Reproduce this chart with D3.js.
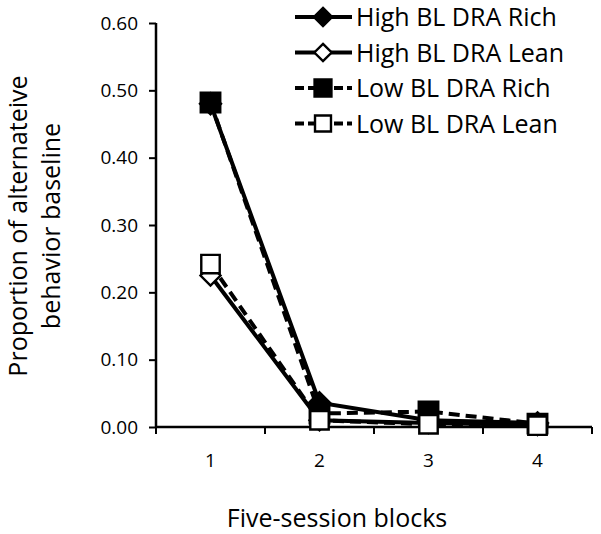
<!DOCTYPE html>
<html>
<head>
<meta charset="utf-8">
<script src="https://cdn.jsdelivr.net/npm/d3@7"></script>
<style>
  body { margin: 0; background: #fff; }
  text { font-family: "Open Sans", "Noto Sans", sans-serif; fill: #000; }
</style>
</head>
<body>
<div id="chart"></div>
<script>
var blocks = ["1", "2", "3", "4"];
var yTicks = [0, 0.1, 0.2, 0.3, 0.4, 0.5, 0.6];

var highRich = [0.480, 0.036, 0.010, 0.006];
var highLean = [0.225, 0.010, 0.006, 0.003];
var lowRich  = [0.482, 0.020, 0.023, 0.005];
var lowLean  = [0.242, 0.010, 0.004, 0.002];

var seriesNames = ["High BL DRA Rich", "High BL DRA Lean", "Low BL DRA Rich", "Low BL DRA Lean"];

var svgWidth = 601;
var svgHeight = 534;

var margin = { top: 23, right: 9, bottom: 107, left: 156 };
var width = svgWidth - margin.left - margin.right;
var height = svgHeight - margin.top - margin.bottom;

var svg = d3.select("#chart")
  .append("svg")
  .attr("width", svgWidth)
  .attr("height", svgHeight);

var chartGroup = svg.append("g")
  .attr("transform", `translate(${margin.left}, ${margin.top})`);

var x = d3.scaleBand()
  .domain(blocks)
  .range([0, width]);

var y = d3.scaleLinear()
  .domain([0, 0.6])
  .range([height, 0]);

var bottomAxis = d3.axisBottom(x).tickSize(0).tickPadding(27);
var leftAxis = d3.axisLeft(y).tickValues(yTicks).tickFormat(d3.format(".2f")).tickSize(7).tickPadding(11);

var yAxisG = chartGroup.append("g").call(leftAxis);
yAxisG.select(".domain").remove();
yAxisG.selectAll("line").attr("stroke", "#000").attr("stroke-width", 2);
yAxisG.selectAll("text").style("font-size", "19px");
yAxisG.append("line")
  .attr("x1", 0).attr("x2", 0).attr("y1", 0).attr("y2", height)
  .attr("stroke", "#000").attr("stroke-width", 2.5);

var xAxisG = chartGroup.append("g")
  .attr("transform", `translate(0, ${height})`)
  .call(bottomAxis);
xAxisG.select(".domain").remove();
xAxisG.selectAll("text").style("font-size", "19px");
xAxisG.append("line")
  .attr("x1", 0).attr("x2", width).attr("y1", 0).attr("y2", 0)
  .attr("stroke", "#000").attr("stroke-width", 2.5);
// category boundary ticks
xAxisG.selectAll(".btick")
  .data(d3.range(blocks.length + 1))
  .enter()
  .append("line")
  .attr("class", "btick")
  .attr("x1", i => i * x.bandwidth())
  .attr("x2", i => i * x.bandwidth())
  .attr("y1", 0).attr("y2", 7)
  .attr("stroke", "#000").attr("stroke-width", 2);

// excel style diamond: a square turned 45 degrees
var squareDiamond = {
  draw: function(context, size) {
    var r = Math.sqrt(size / 2);
    context.moveTo(0, -r);
    context.lineTo(r, 0);
    context.lineTo(0, r);
    context.lineTo(-r, 0);
    context.closePath();
  }
};

var series = [
  { name: seriesNames[0], values: highRich, dash: null, shape: squareDiamond, fill: "#000", size: 220 },
  { name: seriesNames[1], values: highLean, dash: null, shape: squareDiamond, fill: "#fff", size: 200 },
  { name: seriesNames[2], values: lowRich, dash: "11,6", shape: d3.symbolSquare, fill: "#000", size: 380 },
  { name: seriesNames[3], values: lowLean, dash: "11,6", shape: d3.symbolSquare, fill: "#fff", size: 340 }
];

var line = d3.line()
  .x((d, i) => x(blocks[i]) + x.bandwidth() / 2)
  .y(d => y(d));

series.forEach(function(s) {
  chartGroup.append("path")
    .datum(s.values)
    .attr("d", line)
    .attr("fill", "none")
    .attr("stroke", "#000")
    .attr("stroke-width", 4)
    .attr("stroke-dasharray", s.dash);
});

series.forEach(function(s) {
  chartGroup.selectAll(null)
    .data(s.values)
    .enter()
    .append("path")
    .attr("transform", (d, i) => `translate(${x(blocks[i]) + x.bandwidth() / 2}, ${y(d)})`)
    .attr("d", d3.symbol().type(s.shape).size(s.size))
    .attr("fill", s.fill)
    .attr("stroke", "#000")
    .attr("stroke-width", 2.4);
});

// legend
var legend = svg.append("g").attr("transform", "translate(295, 17)");
series.forEach(function(s, i) {
  var row = legend.append("g").attr("transform", `translate(0, ${i * 35.5})`);
  row.append("line")
    .attr("x1", 0).attr("x2", 57).attr("y1", 0).attr("y2", 0)
    .attr("stroke", "#000").attr("stroke-width", 4)
    .attr("stroke-dasharray", s.dash ? "9,4" : null);
  row.append("path")
    .attr("transform", "translate(28, 0)")
    .attr("d", d3.symbol().type(s.shape).size(s.size * 0.75))
    .attr("fill", s.fill)
    .attr("stroke", "#000")
    .attr("stroke-width", 2.4);
  row.append("text")
    .attr("x", 61)
    .attr("y", 9)
    .style("font-size", "25px")
    .text(s.name);
});

// axis titles
svg.append("text")
  .attr("transform", "rotate(-90)")
  .attr("x", -226)
  .attr("y", 27)
  .attr("text-anchor", "middle")
  .style("font-size", "25px")
  .text("Proportion of alternateive");

svg.append("text")
  .attr("transform", "rotate(-90)")
  .attr("x", -226)
  .attr("y", 60)
  .attr("text-anchor", "middle")
  .style("font-size", "25px")
  .text("behavior baseline");

svg.append("text")
  .attr("x", 337)
  .attr("y", 527)
  .attr("text-anchor", "middle")
  .style("font-size", "25px")
  .text("Five-session blocks");
</script>
</body>
</html>
